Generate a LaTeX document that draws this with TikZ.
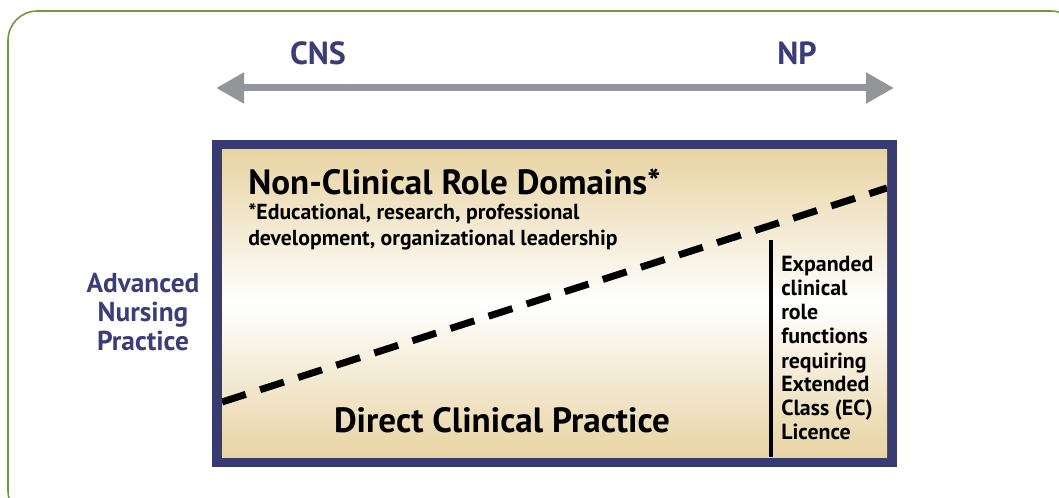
\documentclass[tikz,border=0pt]{standalone}
\usepackage{fontspec}
\setmainfont{PT Sans}
\usepackage{tikz}
\usetikzlibrary{positioning, arrows.meta}

\definecolor{framegreen}{HTML}{6E9A3C}
\definecolor{boxnavy}{HTML}{383B6F}
\definecolor{textnavy}{HTML}{3A3D78}
\definecolor{arrowgray}{HTML}{939598}
\definecolor{boxtan}{HTML}{E8D4A4}

\tikzset{
  navylabel/.style={text=textnavy, font=\bfseries\fontsize{20.5}{21.8}\selectfont, align=center},
  endlabel/.style={text=textnavy, font=\bfseries\fontsize{24}{26}\selectfont, anchor=base},
  boxtitle/.style={font=\bfseries\fontsize{26.3}{28}\selectfont, anchor=base west, inner sep=0pt},
  boxnote/.style={font=\bfseries\fontsize{16.3}{20.2}\selectfont, align=left, anchor=base west, inner sep=0pt},
  sidenote/.style={font=\bfseries\fontsize{16.4}{18}\selectfont, align=left, anchor=base west, inner sep=0pt},
  spanarrow/.style={arrowgray, line width=5.25pt, {Triangle[length=21pt,width=22pt]}-{Triangle[length=21pt,width=22pt]}},
  splitline/.style={line width=5.25pt, dash pattern=on 18.75pt off 11.25pt},
}

\begin{document}
\begin{tikzpicture}[x=0.75pt, y=-0.75pt]
\useasboundingbox (0,0) rectangle (1059,498);
\clip (0,0) rectangle (1059,498);
% Frame
\draw[framegreen, line width=1.2pt, rounded corners=22pt] (8,11) rectangle (1080,520);
% Top arrow
\coordinate (cnsend) at (216,88);
\coordinate (npend) at (894,88);
\draw[spanarrow] (cnsend) -- (npend);
\node[endlabel] (cns) at (318,65) {CNS};
\node[endlabel] (np) at (797,65) {NP};
% Box
\fill[boxnavy] (212,140) rectangle (897,467);
\shade[top color=boxtan, bottom color=boxtan, middle color=white] (222,150) rectangle (887,457);
\begin{scope}
\clip (222,150) rectangle (887,457);
\coordinate (lowend) at (222,402);
\coordinate (highend) at (887,188);
\draw[splitline] (lowend) -- (highend);
\end{scope}
\coordinate (ectop) at (771,240);
\coordinate (ecbot) at (771,457);
\draw[line width=3pt] (ectop) -- (ecbot);
% Texts (base of a stacked node = its last line)
\node[boxtitle] (nonclin) at (248,195) {Non-Clinical Role Domains*};
\node[boxnote] (domains) at (248,246) {*Educational, research, professional\\development, organizational leadership};
\node[font=\bfseries\fontsize{26.3}{28}\selectfont, anchor=base] (direct) at (502,432) {Direct Clinical Practice};
\node[sidenote] (ecnote) at (781,440) {Expanded\\clinical\\role\\functions\\requiring\\Extended\\Class (EC)\\Licence};
\node[navylabel] (anp) at (143,312) {Advanced\\Nursing\\Practice};
\end{tikzpicture}
\end{document}
